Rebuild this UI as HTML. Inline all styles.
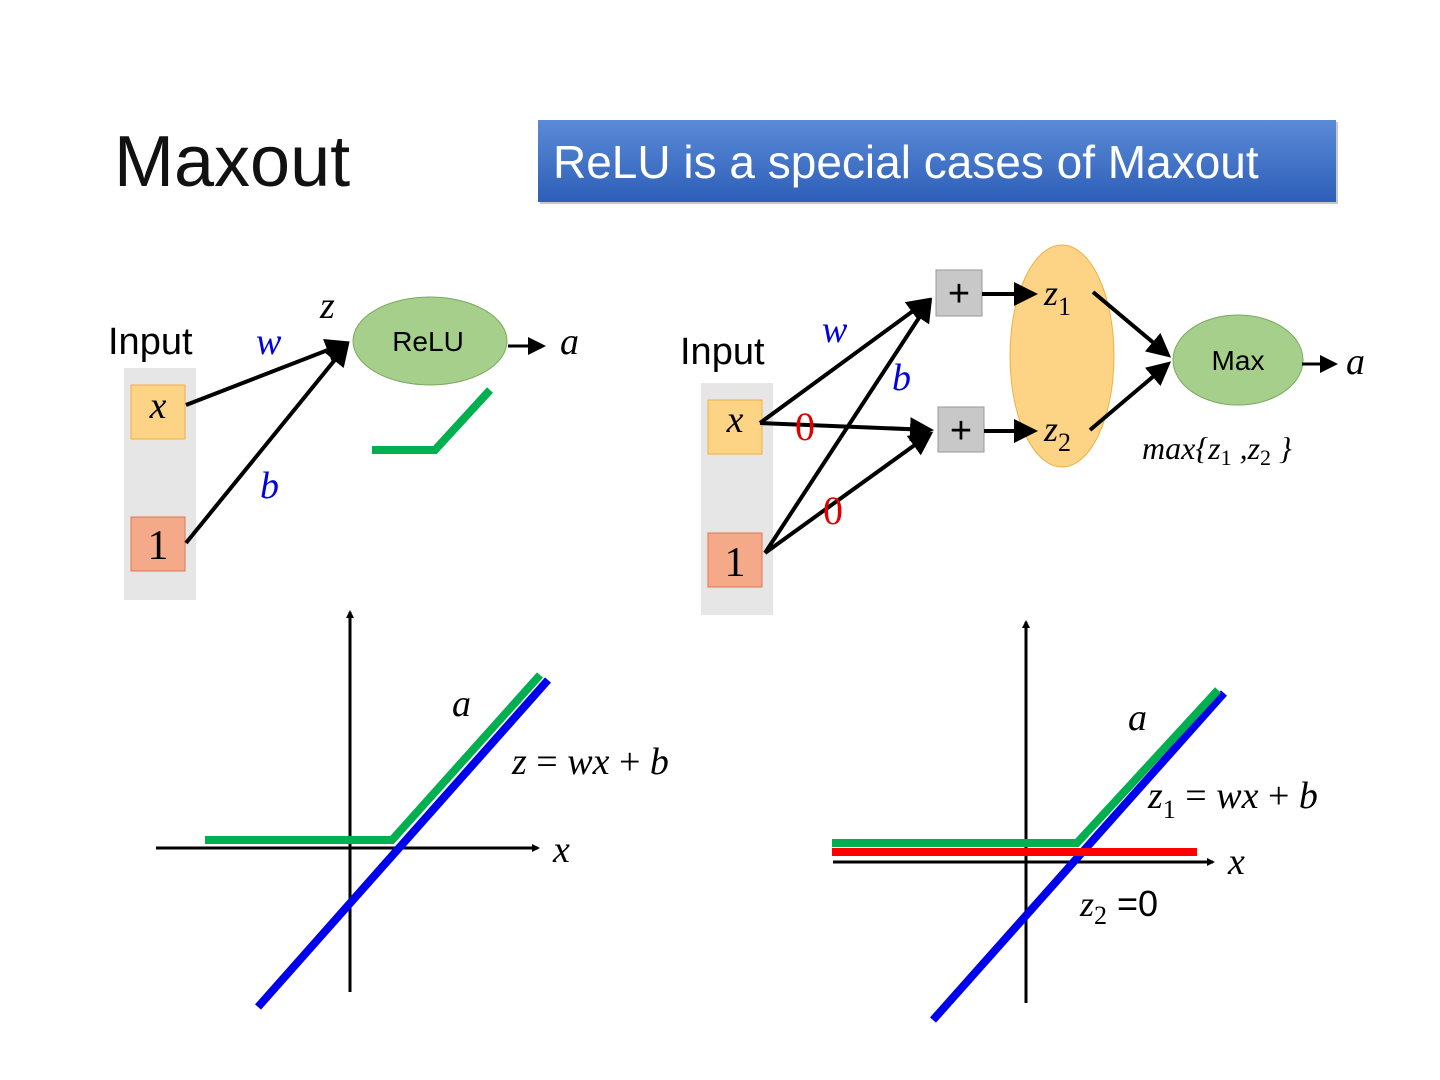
<!DOCTYPE html>
<html><head><meta charset="utf-8"><style>
html,body{margin:0;padding:0;background:#fff;width:1440px;height:1080px;overflow:hidden}
svg{display:block}
.m{font-family:"Liberation Serif",serif;font-style:italic}
.s{font-family:"Liberation Sans",sans-serif}
</style></head><body>
<svg width="1440" height="1080" viewBox="0 0 1440 1080" xmlns="http://www.w3.org/2000/svg">
<defs>
<marker id="ah" markerWidth="6" markerHeight="6" refX="5" refY="3" orient="auto" markerUnits="strokeWidth"><path d="M0,0 L6,3 L0,6 z" fill="#000"/></marker>
<marker id="ah2" markerWidth="8" markerHeight="8" refX="6" refY="4" orient="auto" markerUnits="userSpaceOnUse"><path d="M0,0 L8,4 L0,8 z" fill="#000"/></marker>
<linearGradient id="bg" x1="0" y1="0" x2="0" y2="1"><stop offset="0" stop-color="#5b8ad6"/><stop offset="1" stop-color="#2d5fb8"/></linearGradient>
</defs>
<text x="114" y="186" class="s" font-size="72" fill="#111" font-weight="300">Maxout</text>
<rect x="540" y="122" width="798" height="82" fill="#222" opacity="0.25"/>
<rect x="538" y="120" width="798" height="82" fill="url(#bg)"/>
<text x="553" y="178" class="s" font-size="46" fill="#fff">ReLU is a special cases of Maxout</text>

<!-- left network -->
<rect x="124" y="368" width="72" height="232" fill="#e6e6e6"/>
<rect x="131" y="385" width="54" height="54" fill="#fdd485" stroke="#f0b040"/>
<text x="158" y="418" class="m" font-size="38" text-anchor="middle">x</text>
<rect x="131" y="517" width="54" height="54" fill="#f4a989" stroke="#e07850"/>
<text x="158" y="559" font-family="Liberation Serif,serif" font-size="42" text-anchor="middle">1</text>
<text x="108" y="354" class="s" font-size="38">Input</text>
<text x="256" y="354" class="m" font-size="38" fill="#0000e0">w</text>
<text x="260" y="498" class="m" font-size="38" fill="#0000e0">b</text>
<text x="320" y="318" class="m" font-size="38">z</text>
<line x1="186" y1="405" x2="346" y2="343" stroke="#000" stroke-width="4" marker-end="url(#ah)"/>
<line x1="186" y1="543" x2="347" y2="345" stroke="#000" stroke-width="4" marker-end="url(#ah)"/>
<ellipse cx="430" cy="341" rx="77" ry="44" fill="#a5cf8b" stroke="#7aaa5e"/>
<text x="428" y="351" class="s" font-size="28" text-anchor="middle">ReLU</text>
<line x1="508" y1="346" x2="543" y2="346" stroke="#000" stroke-width="3" marker-end="url(#ah)"/>
<text x="560" y="354" class="m" font-size="38">a</text>
<polyline points="372,450 435,450 490,390" fill="none" stroke="#00b050" stroke-width="8"/>

<!-- right network -->
<rect x="701" y="383" width="72" height="232" fill="#e6e6e6"/>
<rect x="708" y="400" width="54" height="54" fill="#fdd485" stroke="#f0b040"/>
<text x="735" y="432" class="m" font-size="38" text-anchor="middle">x</text>
<rect x="708" y="533" width="54" height="54" fill="#f4a989" stroke="#e07850"/>
<text x="735" y="576" font-family="Liberation Serif,serif" font-size="42" text-anchor="middle">1</text>
<text x="680" y="364" class="s" font-size="38">Input</text>
<line x1="760" y1="423" x2="928" y2="300" stroke="#000" stroke-width="4" marker-end="url(#ah)"/>
<line x1="760" y1="423" x2="930" y2="430" stroke="#000" stroke-width="4" marker-end="url(#ah)"/>
<line x1="765" y1="553" x2="930" y2="301" stroke="#000" stroke-width="4" marker-end="url(#ah)"/>
<line x1="765" y1="553" x2="930" y2="434" stroke="#000" stroke-width="4" marker-end="url(#ah)"/>
<text x="822" y="342" class="m" font-size="38" fill="#0000e0">w</text>
<text x="892" y="390" class="m" font-size="38" fill="#0000e0">b</text>
<text x="795" y="440" font-family="Liberation Serif,serif" font-size="40" fill="#e00000">0</text>
<text x="823" y="524" font-family="Liberation Serif,serif" font-size="40" fill="#e00000">0</text>
<rect x="936" y="270" width="46" height="46" fill="#c8c8c8" stroke="#999"/>
<text x="959" y="306" class="s" font-size="38" text-anchor="middle">+</text>
<rect x="938" y="407" width="46" height="45" fill="#c8c8c8" stroke="#999"/>
<text x="961" y="443" class="s" font-size="38" text-anchor="middle">+</text>
<ellipse cx="1062" cy="356" rx="52" ry="111" fill="#fdd485" stroke="#f0b040"/>
<line x1="982" y1="294" x2="1034" y2="294" stroke="#000" stroke-width="4" marker-end="url(#ah)"/>
<line x1="984" y1="431" x2="1034" y2="431" stroke="#000" stroke-width="4" marker-end="url(#ah)"/>
<text x="1044" y="305" class="m" font-size="36">z<tspan font-style="normal" font-size="26" dy="10">1</tspan></text>
<text x="1044" y="441" class="m" font-size="36">z<tspan font-style="normal" font-size="26" dy="10">2</tspan></text>
<line x1="1093" y1="292" x2="1168" y2="355" stroke="#000" stroke-width="4" marker-end="url(#ah)"/>
<line x1="1090" y1="430" x2="1168" y2="364" stroke="#000" stroke-width="4" marker-end="url(#ah)"/>
<ellipse cx="1238" cy="360" rx="65" ry="45" fill="#a5cf8b" stroke="#7aaa5e"/>
<text x="1238" y="370" class="s" font-size="28" text-anchor="middle">Max</text>
<line x1="1302" y1="364" x2="1335" y2="364" stroke="#000" stroke-width="3" marker-end="url(#ah)"/>
<text x="1346" y="374" class="m" font-size="38">a</text>
<text x="1142" y="459" class="m" font-size="32">max{z<tspan font-style="normal" font-size="22" dy="6">1</tspan><tspan dy="-6"> ,z</tspan><tspan font-style="normal" font-size="22" dy="6">2</tspan><tspan dy="-6"> }</tspan></text>

<!-- left graph -->
<line x1="350" y1="992" x2="350" y2="612" stroke="#000" stroke-width="3" marker-end="url(#ah2)"/>
<line x1="156" y1="848" x2="538" y2="848" stroke="#000" stroke-width="3" marker-end="url(#ah2)"/>
<line x1="258" y1="1007" x2="548" y2="680" stroke="#0000ee" stroke-width="8"/>
<polyline points="205,840 392,840 540,675" fill="none" stroke="#00b050" stroke-width="8"/>
<text x="452" y="716" class="m" font-size="38">a</text>
<text x="512" y="774" class="m" font-size="38">z <tspan font-style="normal">=</tspan> wx <tspan font-style="normal">+</tspan> b</text>
<text x="553" y="862" class="m" font-size="38">x</text>

<!-- right graph -->
<line x1="1026" y1="1003" x2="1026" y2="622" stroke="#000" stroke-width="3" marker-end="url(#ah2)"/>
<line x1="833" y1="862" x2="1213" y2="862" stroke="#000" stroke-width="3" marker-end="url(#ah2)"/>
<line x1="933" y1="1020" x2="1224" y2="693" stroke="#0000ee" stroke-width="8"/>
<polyline points="832,843 1077,843 1218,690" fill="none" stroke="#00b050" stroke-width="8"/>
<line x1="832" y1="852" x2="1197" y2="852" stroke="#ff0000" stroke-width="8"/>
<text x="1128" y="730" class="m" font-size="38">a</text>
<text x="1148" y="808" class="m" font-size="38">z<tspan font-style="normal" font-size="26" dy="10">1</tspan><tspan dy="-10"> </tspan><tspan font-style="normal">=</tspan> wx <tspan font-style="normal">+</tspan> b</text>
<text x="1228" y="874" class="m" font-size="38">x</text>
<text x="1080" y="916" class="m" font-size="36">z<tspan font-style="normal" font-size="26" dy="8">2</tspan><tspan font-style="normal" font-family="Liberation Sans,sans-serif" dy="-8"> =0</tspan></text>
</svg>
</body></html>
